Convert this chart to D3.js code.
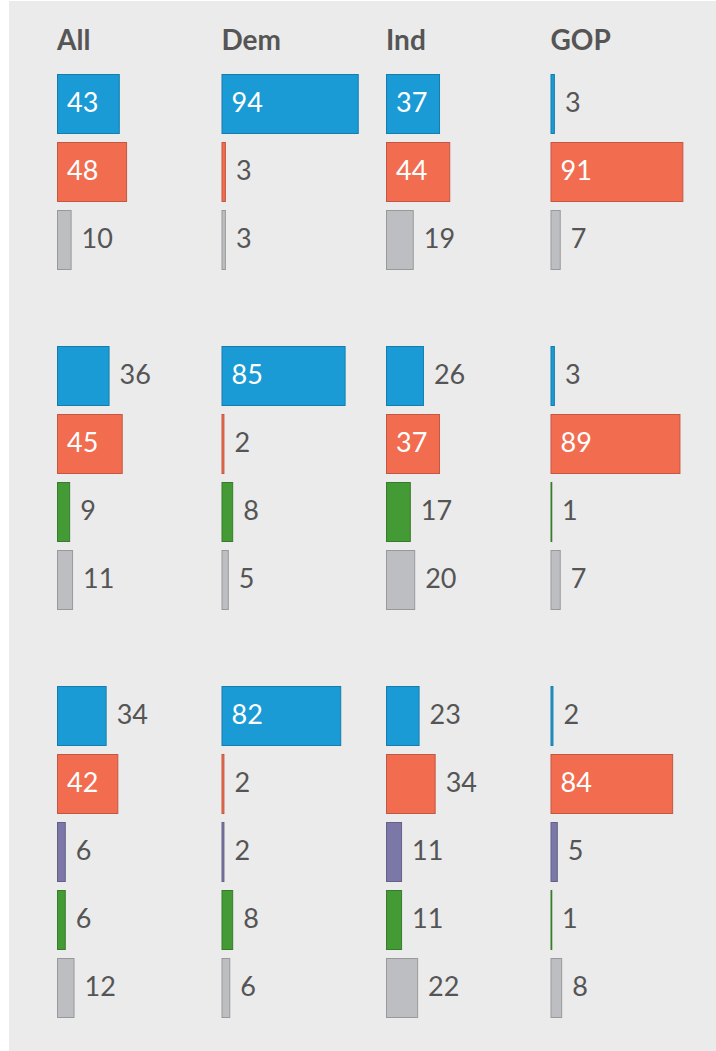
<!DOCTYPE html>
<html>
<head>
<meta charset="utf-8">
<script src="https://cdn.jsdelivr.net/npm/d3@7"></script>
<style>
  html, body { margin: 0; padding: 0; background: #ffffff; }
  svg { display: block; }
</style>
</head>
<body>
<div id="chart"></div>
<script>
// column headers
const columns = ["All", "Dem", "Ind", "GOP"];

// series in each block (top to bottom)
const block1Series = ["blue", "orange", "gray"];
const block2Series = ["blue", "orange", "green", "gray"];
const block3Series = ["blue", "orange", "purple", "green", "gray"];

// values per column, same order as the series above
const block1Values = [[43, 48, 10], [94, 3, 3], [37, 44, 19], [3, 91, 7]];
const block2Values = [[36, 45, 9, 11], [85, 2, 8, 5], [26, 37, 17, 20], [3, 89, 1, 7]];
const block3Values = [[34, 42, 6, 6, 12], [82, 2, 2, 8, 6], [23, 34, 11, 11, 22], [2, 84, 5, 1, 8]];

const colors = {
  blue: "#1a9bd6",
  orange: "#f26c4f",
  green: "#449a35",
  purple: "#7b78a8",
  gray: "#bdbec1"
};

(function() {
  const width = 716;
  const height = 1051;

  const svg = d3.select("#chart")
    .append("svg")
    .attr("width", width)
    .attr("height", height);

  // grey panel
  svg.append("rect")
    .attr("x", 9)
    .attr("y", 1)
    .attr("width", width - 9)
    .attr("height", height - 1)
    .attr("fill", "#ebebeb");

  // build rows: one empty row between blocks
  const blocks = [
    { series: block1Series, values: block1Values },
    { series: block2Series, values: block2Values },
    { series: block3Series, values: block3Values }
  ];
  const rows = [];
  let r = 0;
  blocks.forEach((b) => {
    b.series.forEach((s, si) => {
      columns.forEach((c, ci) => {
        rows.push({ row: r, col: c, series: s, value: b.values[ci][si] });
      });
      r++;
    });
    r++; // gap row
  });
  const nRows = r - 1;

  const step = 68;
  const gap = 8;

  const x0 = d3.scaleBand()
    .domain(columns)
    .range([57, 715]);

  // range chosen so each step is exactly 68px
  const y = d3.scaleBand()
    .domain(d3.range(nRows))
    .range([74, 74 + nRows * step - gap])
    .paddingInner(gap / step)
    .paddingOuter(0);

  const x = d3.scaleLinear()
    .domain([0, 100])
    .range([0, 146]);

  const font = "Lato, 'Open Sans', sans-serif";

  // headers
  svg.selectAll("text.header")
    .data(columns)
    .join("text")
    .attr("class", "header")
    .attr("x", d => x0(d))
    .attr("y", 50)
    .attr("font-family", font)
    .attr("font-weight", "bold")
    .attr("font-size", 28)
    .attr("fill", "#555555")
    .text(d => d);

  // bars
  svg.selectAll("rect.bar")
    .data(rows)
    .join("rect")
    .attr("class", "bar")
    .attr("x", d => x0(d.col) + 0.5)
    .attr("y", d => y(d.row) + 0.5)
    .attr("width", d => Math.max(x(d.value) - 1, 0.8))
    .attr("height", y.bandwidth() - 1)
    .attr("fill", d => colors[d.series])
    .attr("stroke", d => d3.color(colors[d.series]).darker(0.6))
    .attr("stroke-width", 1);

  // value labels: inside the bar when it's wide enough
  const inside = d => d.value >= 37;
  svg.selectAll("text.value")
    .data(rows)
    .join("text")
    .attr("class", "value")
    .attr("x", d => inside(d) ? x0(d.col) + 10 : x0(d.col) + x(d.value) + 10)
    .attr("y", d => y(d.row) + y.bandwidth() / 2 + 8)
    .attr("font-family", font)
    .attr("font-size", 27)
    .attr("fill", d => inside(d) ? "#ffffff" : "#555555")
    .text(d => d.value);
})();
</script>
</body>
</html>
